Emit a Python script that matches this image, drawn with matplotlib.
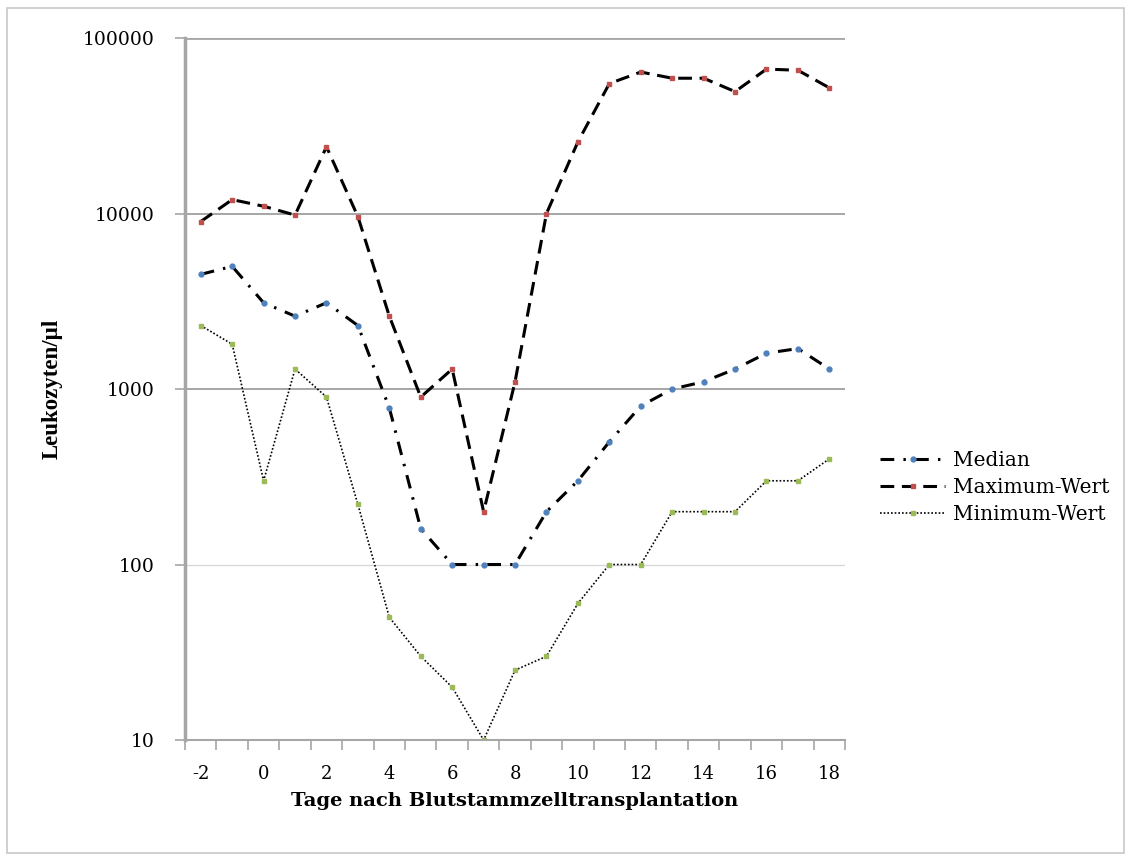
import numpy as np
import matplotlib
matplotlib.use('Agg')
import matplotlib.pyplot as plt
from matplotlib.patches import Rectangle

plt.rcParams['font.family'] = ['DejaVu Serif']

# Tage nach Transplantation (-2 .. 18)
tage = list(range(-2, 19))
median = [4500, 5000, 3100, 2600, 3100, 2300, 780, 160, 100, 100, 100,
          200, 300, 500, 800, 1000, 1100, 1300, 1600, 1700, 1300]
maximum = [9000, 12000, 11000, 9800, 24000, 9600, 2600, 900, 1300, 200, 1100,
           10000, 25600, 55000, 64000, 59000, 59000, 49500, 66500, 65500, 52000]
minimum = [2300, 1800, 300, 1300, 900, 220, 50, 30, 20, 10, 25,
           30, 60, 100, 100, 200, 200, 200, 300, 300, 400]
tick_labels = ['-2', '0', '2', '4', '6', '8', '10', '12', '14', '16', '18']

fig = plt.figure(figsize=(11.29, 8.58), dpi=100)
fig.patches.append(Rectangle((0.006, 0.006), 0.99, 0.985, transform=fig.transFigure,
                             fill=False, edgecolor='#c8c8c8', linewidth=1.2))
ax = fig.add_axes([0.1639, 0.1375, 0.5846, 0.8182])

x = np.arange(len(tage))
ax.plot(x, median, color='black', lw=2.2, dashes=(4.5, 3, 0.8, 3),
        marker='o', markersize=3.5, markerfacecolor='#4F81BD', markeredgecolor='#4F81BD',
        label='Median')
ax.plot(x, maximum, color='black', lw=2.2, dashes=(4.5, 2.5),
        marker='s', markersize=3, markerfacecolor='#C0504D', markeredgecolor='#C0504D',
        label='Maximum-Wert')
ax.plot(x, minimum, color='black', lw=1.2, dashes=(1, 1.2),
        marker='s', markersize=3, markerfacecolor='#9BBB59', markeredgecolor='#9BBB59',
        label='Minimum-Wert')

ax.set_yscale('log')
ax.set_ylim(10, 100000)
ax.set_xlim(-0.5, len(tage) - 0.5)
ax.set_yticks([10, 100, 1000, 10000, 100000])
ax.set_yticklabels(['10', '100', '1000', '10000', '100000'])
ax.yaxis.set_minor_locator(matplotlib.ticker.NullLocator())
ax.set_xticks(x[::2])
ax.set_xticklabels(tick_labels)
ax.set_xticks(np.arange(len(tage) + 1) - 0.5, minor=True)
ax.tick_params(axis='x', which='major', length=0, labelsize=13, pad=18)
ax.tick_params(axis='x', which='minor', length=7, width=1.2, color='#a6a6a6', direction='out')
ax.tick_params(axis='y', which='major', length=7, width=1.2, color='#a6a6a6', labelsize=13.5, pad=15)

for v, c, w in [(100, '#d9d9d9', 1.0), (1000, '#a6a6a6', 1.4),
                (10000, '#a6a6a6', 1.4), (100000, '#a6a6a6', 2.0)]:
    ax.axhline(v, color=c, lw=w, zorder=0)

for s in ['top', 'right']:
    ax.spines[s].set_visible(False)
ax.spines['left'].set_color('#a6a6a6')
ax.spines['left'].set_linewidth(2.5)
ax.spines['bottom'].set_color('#a6a6a6')
ax.spines['bottom'].set_linewidth(1.5)

ax.set_xlabel('Tage nach Blutstammzelltransplantation', fontsize=14, fontweight='bold')
ax.xaxis.label.set_va('center')
ax.xaxis.set_label_coords(0.5, -0.0875)
ax.set_ylabel('Leukozyten/µl', fontsize=16.5, fontweight='bold', family='Liberation Serif')
ax.yaxis.label.set_rotation_mode('default')
ax.yaxis.label.set_va('center')
ax.yaxis.label.set_ha('center')
ax.yaxis.set_label_coords(-0.2015, 0.5)

leg = ax.legend(loc='center left', bbox_to_anchor=(1.026, 0.36), frameon=False,
                fontsize=14.5, handlelength=3.2, labelspacing=0.4, handletextpad=0.4)

plt.savefig('out.png', dpi=100)
